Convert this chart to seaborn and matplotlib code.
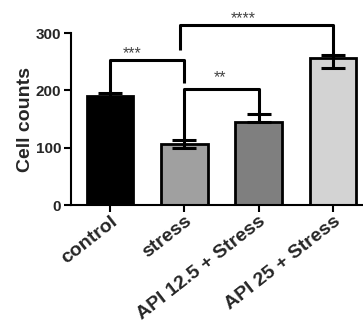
import matplotlib
matplotlib.use("Agg")
import matplotlib.pyplot as plt
import seaborn as sns

# Group data
categories = ["control", "stress", "API 12.5 + Stress", "API 25 + Stress"]
means = [190, 106, 145, 256]
err_low = [5, 7, 0, 16]
err_high = [5, 8, 14, 6]
bar_colors = ["#000000", "#a0a0a0", "#7f7f7f", "#d3d3d3"]
y_ticks = [0, 100, 200, 300]

# Significance brackets: (x_left, x_right, top, left_bottom, right_bottom, label, label_x, label_y)
brackets = [
    (0, 1, 253, 195, 213, "***", 0.30, 256),
    (1, 2, 202, 114, 159, "**", 1.48, 215),
    (0.94, 3, 314, 270, 262, "****", 1.79, 318),
]

sns.set_style("ticks")
plt.rcParams["font.family"] = ["Liberation Sans", "DejaVu Sans"]
plt.rcParams["font.weight"] = "bold"

fig = plt.figure(figsize=(3.63, 3.25), dpi=100)
ax = fig.add_axes([0.1956, 0.369, 0.8044, 0.529])

sns.barplot(x=categories, y=means, hue=categories, palette=bar_colors,
            width=0.63, edgecolor="black", linewidth=2.0, legend=False,
            errorbar=None, ax=ax, zorder=2)

ax.errorbar(range(len(categories)), means, yerr=[err_low, err_high],
            fmt="none", ecolor="black", elinewidth=2.2, capsize=8.5,
            capthick=2.2, zorder=3)

for xl, xr, top, lb, rb, label, lx, ly in brackets:
    ax.plot([xl, xl, xr, xr], [lb, top, top, rb], color="black", lw=2.2,
            solid_capstyle="butt", clip_on=False, zorder=4)
    ax.text(lx, ly, label, ha="center", va="baseline", fontsize=11.5,
            fontweight="normal", color="#444444", clip_on=False)

ax.set_xlim(-0.525, 3.405)
ax.set_ylim(0, 300)
ax.set_yticks(y_ticks)
ax.set_yticklabels([str(t) for t in y_ticks], fontsize=11, fontweight="bold")
ax.set_xticks(range(len(categories)))
ax.set_xticklabels(categories, rotation=38, ha="right", va="top",
                   rotation_mode="anchor", fontsize=14, fontweight="bold")
ax.set_xlabel("")
ax.set_ylabel("Cell counts", fontsize=14, fontweight="bold", labelpad=1)

ax.tick_params(axis="both", direction="out", length=5, width=1.5,
               color="black", pad=2)
ax.tick_params(axis="x", pad=0.5)
for side in ("left", "bottom"):
    ax.spines[side].set_linewidth(1.5)
    ax.spines[side].set_color("black")
sns.despine(ax=ax)

fig.savefig("out.png", dpi=100)
